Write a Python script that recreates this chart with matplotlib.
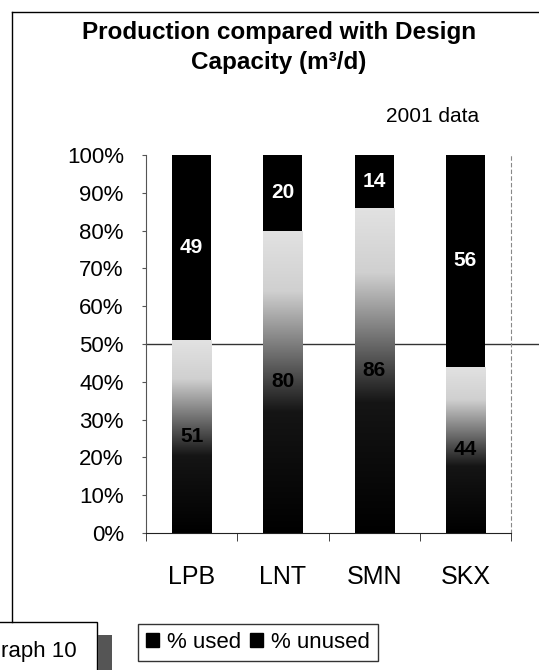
import numpy as np
import matplotlib
matplotlib.use("Agg")
import matplotlib.pyplot as plt
from matplotlib.patches import Patch, Rectangle
from matplotlib.lines import Line2D
from matplotlib.colors import LinearSegmentedColormap

plt.rcParams['font.family'] = ['Liberation Sans', 'DejaVu Sans']

# data (2001, % of design capacity)
plants = ["LPB", "LNT", "SMN", "SKX"]
used = [51, 80, 86, 44]
unused = [49, 20, 14, 56]
yticks = [0, 10, 20, 30, 40, 50, 60, 70, 80, 90, 100]
ytick_labels = ["0%", "10%", "20%", "30%", "40%", "50%", "60%", "70%", "80%", "90%", "100%"]

W, H = 539, 670
fig = plt.figure(figsize=(W / 100, H / 100), dpi=100)
ax = fig.add_axes([146 / W, 1 - 533 / H, 365 / W, 378 / H])

x = np.arange(len(plants))
bw = 0.43
b_used = ax.bar(x, used, width=bw, color="black", zorder=2)
b_unused = ax.bar(x, unused, width=bw, bottom=used, color="black", zorder=2)

# scanned look: used part fades from black to light grey upwards
scan = LinearSegmentedColormap.from_list(
    "scan", [(0, "black"), (0.4, "#151515"), (0.8, "#d0d0d0"), (1, "#e2e2e2")])
grad = np.linspace(0, 1, 256).reshape(-1, 1)
for r in b_used:
    r.set_facecolor("none")
    im = ax.imshow(grad, extent=(r.get_x(), r.get_x() + r.get_width(), 0, r.get_height()),
                   origin="lower", cmap=scan, aspect="auto", zorder=2)
    im.set_clip_path(r)

ax.bar_label(b_used, labels=[str(v) for v in used], label_type="center",
             color="black", fontweight="bold", fontsize=15)
ax.bar_label(b_unused, labels=[str(v) for v in unused], label_type="center",
             color="white", fontweight="bold", fontsize=15)

ax.set_xlim(-0.5, len(plants) - 0.5)
ax.set_ylim(0, 100)

# 50% line, runs out to the page edge
ax.axhline(50, xmin=0, xmax=(W - 146) / 365, color="#333333", lw=1, zorder=1, clip_on=False)

ax.set_yticks(yticks)
ax.set_yticklabels(ytick_labels, fontsize=16)
ax.tick_params(axis="y", length=3, pad=13, color="#555555")
ax.set_xticks(x)
ax.set_xticklabels(plants, fontsize=18)
ax.set_xticks(np.arange(-0.5, len(plants)), minor=True)
ax.tick_params(axis="x", which="major", length=0, pad=23)
ax.tick_params(axis="x", which="minor", length=6, direction="out", color="#222222")

ax.spines["top"].set_visible(False)
ax.spines["left"].set_color("#555555")
ax.spines["bottom"].set_color("#222222")
ax.spines["right"].set_color("#888888")
ax.spines["right"].set_linestyle((0, (3, 3)))
ax.spines["right"].set_linewidth(0.8)

fig.text(279 / W, 1 - 33 / H, "Production compared with Design", ha="center", va="center",
         fontsize=17.5, fontweight="bold")
fig.text(279 / W, 1 - 63 / H, "Capacity (m³/d)", ha="center", va="center",
         fontsize=17.5, fontweight="bold")
fig.text(433 / W, 1 - 116 / H, "2001 data", ha="center", va="center", fontsize=15)

# page frame lines from the scan
fig.add_artist(Line2D([12 / W, 1], [1 - 12 / H] * 2, transform=fig.transFigure, color="black", lw=1))
fig.add_artist(Line2D([12 / W] * 2, [1 - 12 / H, 1 - 622 / H], transform=fig.transFigure,
                      color="black", lw=1))

# cut-off caption box at bottom left
fig.add_artist(Rectangle((-0.01, -0.01), 97 / W + 0.01, (H - 622) / H + 0.01, transform=fig.transFigure,
                         facecolor="white", edgecolor="black", lw=1))
fig.text(1 / W, 18 / H, "raph 10", ha="left", va="center", fontsize=16)
fig.add_artist(Rectangle((98 / W, 0), 14 / W, 35 / H, transform=fig.transFigure,
                         facecolor="#555555", edgecolor="none", hatch="////"))

handles = [Patch(facecolor="black", edgecolor="black", label="% used"),
           Patch(facecolor="black", edgecolor="black", label="% unused")]
fig.legend(handles=handles, loc="upper left", bbox_to_anchor=(138 / W, 1 - 624 / H), ncol=2,
           frameon=True, fancybox=False, edgecolor="black", fontsize=16,
           handlelength=0.6, handleheight=0.6, handletextpad=0.35, columnspacing=0.4,
           borderpad=0.35, borderaxespad=0)

fig.savefig("out.png", dpi=100)
